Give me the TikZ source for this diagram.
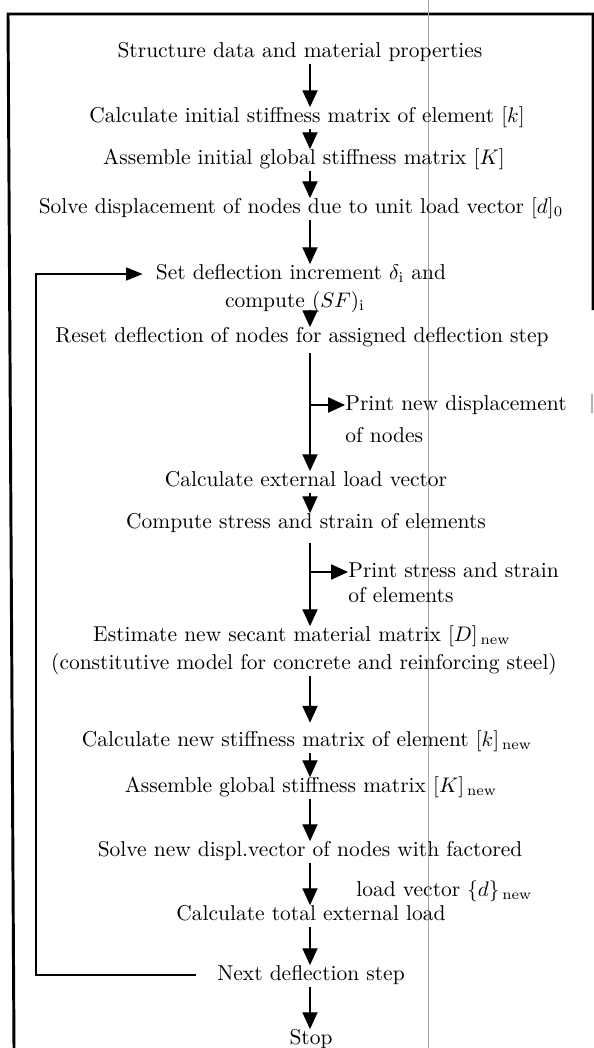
\documentclass[tikz,border=0pt]{standalone}
\usetikzlibrary{arrows.meta}
\begin{document}
\begin{tikzpicture}[x=0.475pt,y=-0.475pt,
  lbl/.style={inner sep=0pt, text height=7pt, text depth=2pt, font=\fontsize{10.2}{12}\selectfont},
  arr/.style={-{Triangle[length=8pt,width=7.2pt]}, line width=0.65pt, shorten <=1pt},
  looparr/.style={-{Triangle[length=8pt,width=6pt]}, line width=1.3pt},
  frame/.style={line width=1.4pt, line join=miter},
  scanline/.style={gray!70, line width=0.4pt}]
\useasboundingbox (0,0) rectangle (594,1048);
% frame and scan line
\draw[frame] (14,1048) -- (8,14) -- (593,14) -- (593,310);
\draw[gray!60, line width=0.6pt] (592,394) -- (592,413);
\draw[scanline] (428,0) -- (428,1048);
\coordinate (mx) at (310,0);
\coordinate (lx) at (36,0);
% nodes
\node[lbl] (n1) at (300,52) {Structure data and material properties};
\node[lbl] (n2) at (307,117) {Calculate initial stiffness matrix of element $[k]$};
\node[lbl] (n3) at (304,159) {Assemble initial global stiffness matrix $[K]$};
\node[lbl] (n4) at (301,208) {Solve displacement of nodes due to unit load vector $[d]_0$};
\node[lbl] (n5) at (301,274) {Set deflection increment $\delta_{\mathrm{i}}$ and};
\node[lbl] (n5b) at (295,302) {compute $(SF)_{\mathrm{i}}$};
\node[lbl] (n6) at (302,337) {Reset deflection of nodes for assigned deflection step};
\node[lbl,anchor=west] (p1) at (345,405) {Print new displacement};
\node[lbl,anchor=west] (p1b) at (345,437) {of nodes};
\node[lbl] (n7) at (306,481) {Calculate external load vector};
\node[lbl] (n8) at (306,523) {Compute stress and strain of elements};
\node[lbl,anchor=west] (p2) at (348,572) {Print stress and strain};
\node[lbl,anchor=west] (p2b) at (348,597) {of elements};
\node[lbl] (n9) at (302,636) {Estimate new secant material matrix $[D]_{\,\mathrm{new}}$};
\node[lbl] (n9b) at (304,664) {(constitutive model for concrete and reinforcing steel)};
\node[lbl] (n10) at (307,741) {Calculate new stiffness matrix of element $[k]_{\,\mathrm{new}}$};
\node[lbl] (n11) at (311,787) {Assemble global stiffness matrix $[K]_{\,\mathrm{new}}$};
\node[lbl] (n12) at (310,851) {Solve new displ.vector of nodes with factored};
\node[lbl,anchor=west] (n12b) at (356,891) {load vector $\{d\}_{\,\mathrm{new}}$};
\node[lbl] (n13) at (311,915) {Calculate total external load};
\node[lbl] (n14) at (311,975) {Next deflection step};
\node[lbl] (n15) at (311,1039) {Stop};
% main arrows
\draw[arr] (n1.south -| mx) -- (n2.north -| mx);
\draw[arr] (n2.south -| mx) -- (n3.north -| mx);
\draw[arr] (n3.south -| mx) -- (n4.north -| mx);
\draw[arr] (n4.south -| mx) -- (n5.north -| mx);
\draw[arr] (n5b.south -| mx) -- (n6.north -| mx);
\draw[arr, shorten <=3pt] (n6.south -| mx) -- (n7.north -| mx);
\draw[arr] (n7.south -| mx) -- (n8.north -| mx);
\draw[arr, shorten <=5pt] (n8.south -| mx) -- (n9.north -| mx);
\draw[arr, shorten >=4pt] (n9b.south -| mx) -- (n10.north -| mx);
\draw[arr] (n10.south -| mx) -- (n11.north -| mx);
\draw[arr] (n11.south -| mx) -- (n12.north -| mx);
\draw[arr] (n12.south -| mx) -- (n13.north -| mx);
\draw[arr] (n13.south -| mx) -- (n14.north -| mx);
\draw[arr] (n14.south -| mx) -- (n15.north -| mx);
% side branches
\draw[arr, shorten <=0pt] (p1.west -| mx) -- (p1.west);
\draw[arr, shorten <=0pt] (p2.west -| mx) -- (p2.west);
% loop
\draw[looparr] ([xshift=-10pt]n14.west) -- (n14.west -| lx) -- (n5.west -| lx) -- ([xshift=-6pt]n5.west);
\end{tikzpicture}
\end{document}
